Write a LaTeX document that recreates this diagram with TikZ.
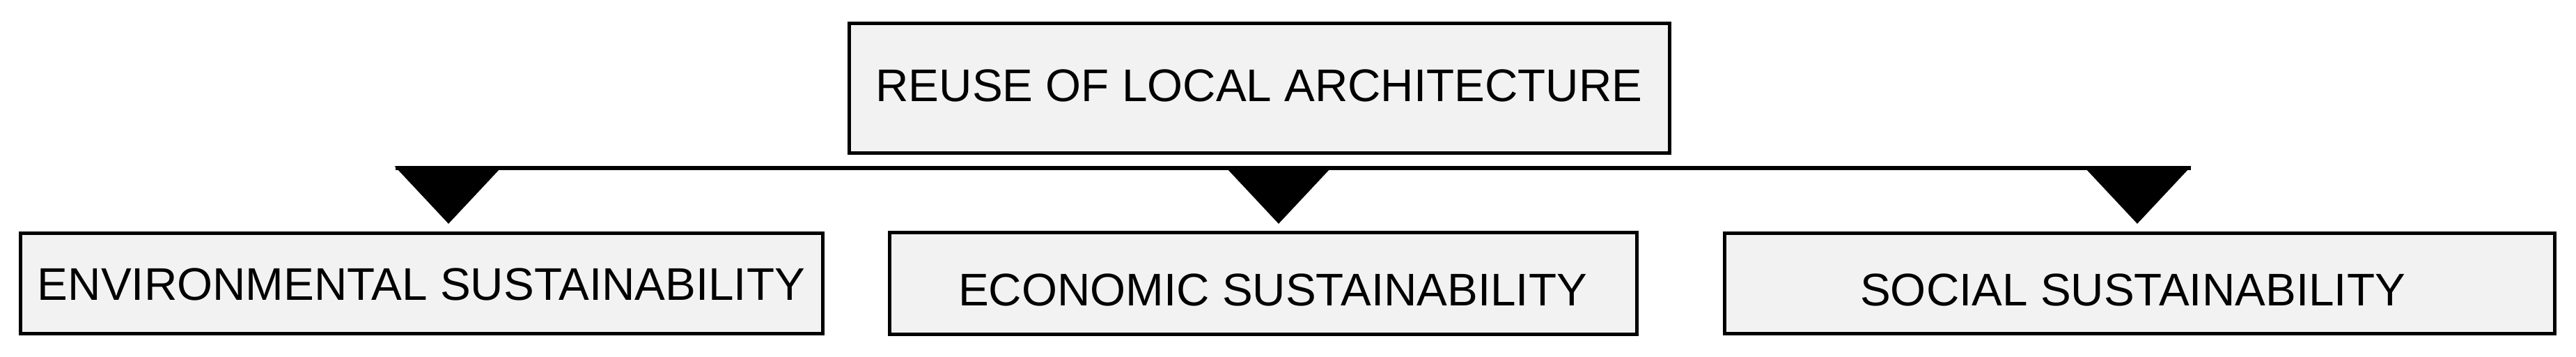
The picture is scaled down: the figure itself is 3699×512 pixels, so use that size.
\documentclass[tikz,border=0pt]{standalone}
\usepackage{fontspec}
\setmainfont{Liberation Sans}
\definecolor{boxfill}{HTML}{F2F2F2}
\tikzset{
  px/.style={x=0.25pt,y=-0.25pt},
  boxnode/.style={draw=black, line width=1.25pt, fill=boxfill, inner sep=0pt,
    text height=11.74pt, text depth=0pt,
    font=\fontsize{16.4pt}{19pt}\selectfont},
  busline/.style={line width=1.6pt, black},
  hangtri/.style={fill=black, draw=black, line width=0.3pt, line join=miter}
}
\begin{document}
\begin{tikzpicture}[px]
\useasboundingbox (0,0) rectangle (3699,512);
% boxes
\node[boxnode, minimum width=294.5pt, minimum height=46.5pt, text depth=2.25pt] (top) at (1808,127) {REUSE OF LOCAL ARCHITECTURE};
\node[boxnode, minimum width=288pt, minimum height=36pt] (env) at (605,407) {ENVIRONMENTAL SUSTAINABILITY};
\node[boxnode, minimum width=268.25pt, minimum height=36.5pt, text height=15.99pt] (eco) at (1813.5,407) {\hspace*{7pt}ECONOMIC SUSTAINABILITY};
\node[boxnode, minimum width=298pt, minimum height=36pt, text height=15.74pt] (soc) at (3072,407) {SOCIAL SUSTAINABILITY\hspace*{4.75pt}};
% bus line and hanging triangles
\coordinate (t1) at (644,241);
\coordinate (t2) at (1836,241);
\coordinate (t3) at (3069,241);
\coordinate (busL) at (568,241);
\coordinate (busR) at (3146,241);
\draw[busline] (busL) -- (busR);
\fill[hangtri] (t1) ++(-76,-2) -- ++(152,0) -- ++(-76,81) -- cycle;
\fill[hangtri] (t2) ++(-76,-2) -- ++(152,0) -- ++(-76,81) -- cycle;
\fill[hangtri] (t3) ++(-76,-2) -- ++(152,0) -- ++(-76,81) -- cycle;
\end{tikzpicture}
\end{document}
